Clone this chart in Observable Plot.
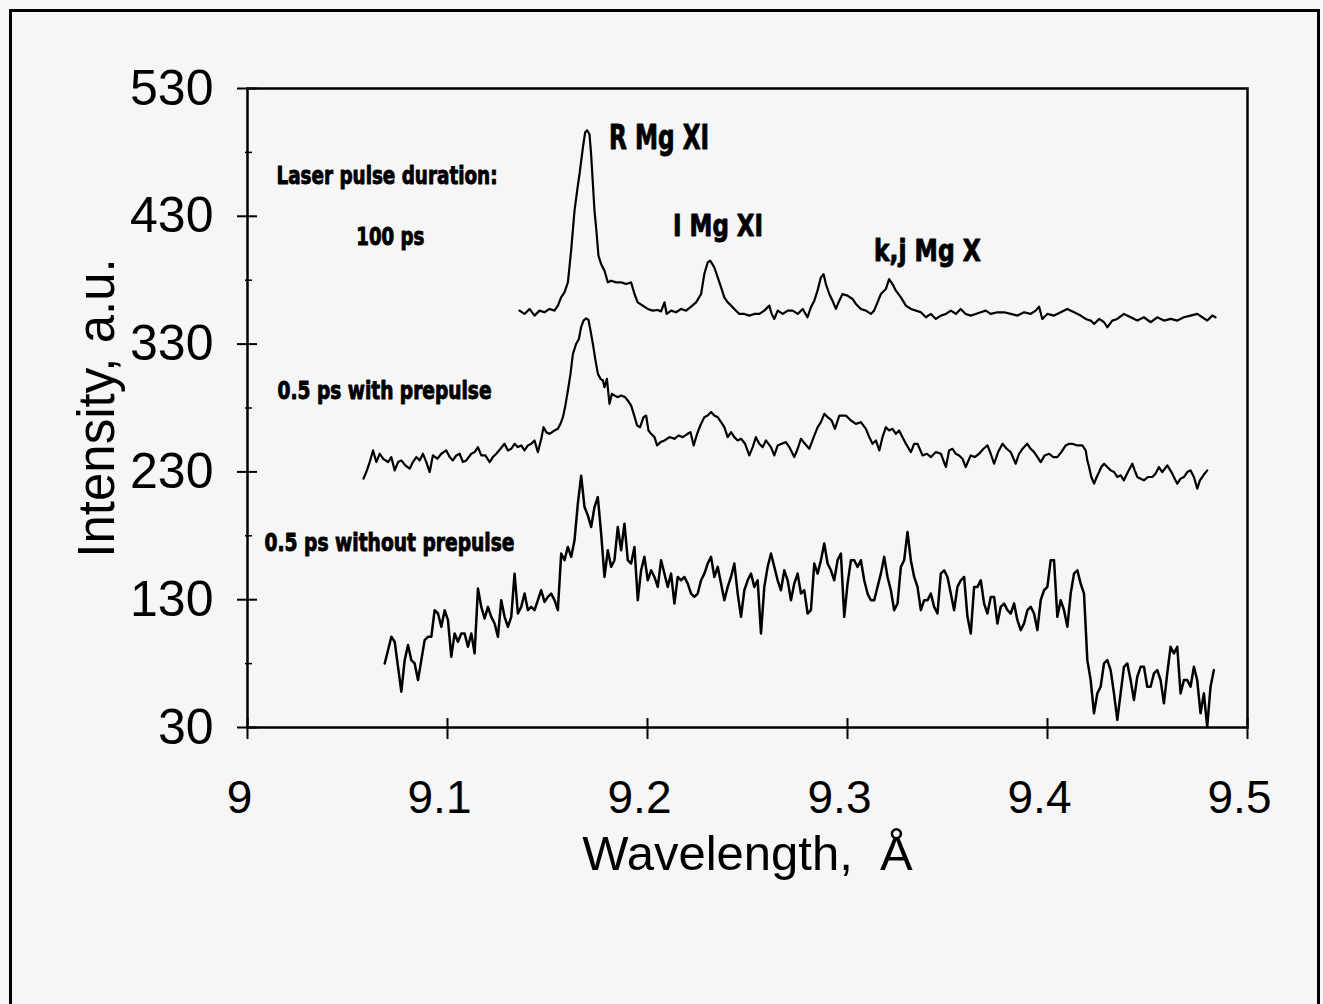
<!DOCTYPE html>
<html>
<head>
<meta charset="utf-8">
<script src="https://cdn.jsdelivr.net/npm/d3@7"></script>
<script src="https://cdn.jsdelivr.net/npm/@observablehq/plot@0.6"></script>
<style>
html,body{margin:0;padding:0;background:#f6f6f6;}
#wrap{position:relative;width:1323px;height:1004px;overflow:hidden;background:#f6f6f6;}
#border{position:absolute;left:9px;top:9px;width:1311px;height:1020px;border:3px solid #000;box-sizing:border-box;pointer-events:none;}
</style>
</head>
<body>
<div id="wrap"><div id="border"></div></div>
<script>
// ---- axis ticks ----
const xTicks = [9, 9.1, 9.2, 9.3, 9.4, 9.5];
const yTicks = [30, 130, 230, 330, 430, 530];
const yMinorTicks = [80, 180, 280, 380, 480];
const xTitle = "Wavelength,  Å";
const yTitle = "Intensity, a.u.";

// ---- series 1: 100 ps ----
const wl100 = [9.1360,9.1385,9.1410,9.1435,9.1460,9.1485,9.1510,9.1535,9.1552,9.1568,9.1585,9.1602,9.1618,9.1635,9.1648,9.1660,9.1677,9.1688,9.1698,9.1710,9.1718,9.1727,9.1735,9.1743,9.1755,9.1768,9.1785,9.1802,9.1818,9.1843,9.1868,9.1893,9.1918,9.1935,9.1951,9.1976,9.2001,9.2026,9.2051,9.2068,9.2085,9.2096,9.2118,9.2143,9.2168,9.2193,9.2218,9.2243,9.2268,9.2284,9.2301,9.2314,9.2334,9.2351,9.2368,9.2384,9.2401,9.2418,9.2434,9.2459,9.2484,9.2509,9.2534,9.2559,9.2584,9.2609,9.2621,9.2634,9.2651,9.2676,9.2701,9.2726,9.2751,9.2776,9.2800,9.2817,9.2834,9.2850,9.2867,9.2880,9.2892,9.2909,9.2925,9.2942,9.2959,9.2975,9.3000,9.3025,9.3042,9.3067,9.3092,9.3117,9.3133,9.3150,9.3167,9.3192,9.3208,9.3225,9.3242,9.3267,9.3292,9.3317,9.3342,9.3367,9.3392,9.3417,9.3442,9.3467,9.3492,9.3517,9.3542,9.3566,9.3591,9.3616,9.3641,9.3666,9.3691,9.3716,9.3750,9.3783,9.3816,9.3850,9.3883,9.3916,9.3941,9.3958,9.3974,9.3999,9.4033,9.4066,9.4099,9.4133,9.4166,9.4191,9.4216,9.4233,9.4258,9.4283,9.4299,9.4324,9.4349,9.4382,9.4416,9.4449,9.4482,9.4516,9.4549,9.4582,9.4616,9.4649,9.4682,9.4715,9.4749,9.4774,9.4799,9.4824,9.4840];
const int100 = [356.2,353.6,357.5,352.3,356.2,354.9,357.5,356.2,360.1,366.6,370.5,378.3,403.0,434.3,449.9,462.9,483.8,495.5,497.3,494.2,478.6,455.1,434.3,421.3,399.1,392.6,387.4,378.3,379.6,378.3,378.3,377.0,378.3,369.2,362.7,360.1,357.5,356.2,356.7,355.6,362.7,353.6,356.2,354.9,357.5,356.2,359.3,362.7,369.2,384.8,393.9,395.2,390.0,382.2,374.4,366.6,362.7,360.1,357.5,353.6,353.6,352.3,353.6,353.6,356.2,360.1,353.6,349.7,356.2,353.6,356.2,356.2,353.6,357.5,351.0,358.8,364.0,371.8,382.2,384.8,377.0,369.2,364.0,357.5,364.0,369.2,367.9,365.3,361.4,357.5,356.2,353.6,356.2,362.7,369.2,373.1,380.9,377.0,371.8,366.6,360.1,357.5,356.2,354.9,351.0,353.6,349.7,352.3,353.6,356.2,353.6,357.5,353.6,352.3,353.6,354.9,356.2,353.6,354.9,354.9,353.6,352.3,354.9,353.6,356.2,359.3,349.7,353.6,352.3,354.9,357.5,354.9,352.3,349.7,348.4,345.8,349.7,347.1,343.2,348.4,349.7,353.6,351.0,348.4,351.0,347.1,351.0,348.4,349.7,348.4,351.0,352.3,353.6,351.0,348.4,352.3,351.0];

// ---- series 2: 0.5 ps with prepulse ----
const wlPre = [9.0580,9.0594,9.0611,9.0628,9.0644,9.0661,9.0678,9.0703,9.0719,9.0736,9.0753,9.0769,9.0789,9.0811,9.0827,9.0844,9.0861,9.0877,9.0894,9.0911,9.0927,9.0949,9.0969,9.0994,9.1011,9.1027,9.1044,9.1061,9.1077,9.1094,9.1119,9.1136,9.1152,9.1169,9.1189,9.1211,9.1227,9.1244,9.1265,9.1285,9.1302,9.1319,9.1335,9.1352,9.1369,9.1385,9.1402,9.1419,9.1435,9.1452,9.1469,9.1480,9.1494,9.1510,9.1535,9.1552,9.1565,9.1577,9.1588,9.1602,9.1615,9.1627,9.1643,9.1657,9.1668,9.1680,9.1693,9.1705,9.1715,9.1727,9.1740,9.1752,9.1765,9.1777,9.1785,9.1797,9.1810,9.1822,9.1835,9.1852,9.1868,9.1888,9.1901,9.1918,9.1931,9.1948,9.1963,9.1980,9.1993,9.2005,9.2018,9.2035,9.2048,9.2065,9.2085,9.2110,9.2135,9.2155,9.2176,9.2201,9.2215,9.2231,9.2248,9.2264,9.2284,9.2301,9.2318,9.2334,9.2351,9.2368,9.2384,9.2401,9.2418,9.2434,9.2451,9.2468,9.2488,9.2509,9.2526,9.2542,9.2559,9.2576,9.2592,9.2617,9.2634,9.2651,9.2671,9.2692,9.2709,9.2734,9.2751,9.2767,9.2787,9.2809,9.2831,9.2851,9.2867,9.2884,9.2901,9.2921,9.2937,9.2959,9.2992,9.3017,9.3042,9.3067,9.3092,9.3109,9.3125,9.3142,9.3159,9.3175,9.3192,9.3208,9.3225,9.3242,9.3258,9.3275,9.3292,9.3317,9.3333,9.3350,9.3375,9.3397,9.3417,9.3442,9.3467,9.3492,9.3508,9.3525,9.3541,9.3558,9.3575,9.3591,9.3616,9.3636,9.3658,9.3680,9.3700,9.3716,9.3733,9.3753,9.3775,9.3796,9.3816,9.3841,9.3858,9.3875,9.3899,9.3916,9.3933,9.3950,9.3966,9.3986,9.4008,9.4029,9.4049,9.4069,9.4091,9.4108,9.4124,9.4149,9.4174,9.4191,9.4199,9.4208,9.4219,9.4233,9.4246,9.4258,9.4269,9.4283,9.4299,9.4316,9.4333,9.4349,9.4366,9.4382,9.4402,9.4424,9.4436,9.4449,9.4466,9.4482,9.4502,9.4524,9.4540,9.4557,9.4574,9.4599,9.4624,9.4640,9.4649,9.4665,9.4682,9.4699,9.4715,9.4732,9.4749,9.4762,9.4774,9.4785,9.4799];
const intPre = [224.7,229.9,237.7,246.8,237.7,244.2,240.3,237.7,241.6,231.2,237.7,239.0,235.1,232.5,237.7,241.6,239.0,244.2,237.7,229.9,242.9,240.3,244.2,246.8,241.6,239.0,242.9,244.2,237.7,239.0,244.2,245.5,249.4,242.9,242.9,237.7,241.6,244.2,248.1,252.0,246.8,248.1,252.0,249.4,250.7,246.8,250.7,252.0,254.6,245.5,255.9,265.0,261.1,259.8,262.4,263.7,267.6,272.8,280.7,293.7,306.7,322.3,330.1,334.0,343.2,348.4,350.2,348.9,340.6,330.1,317.1,306.7,302.8,301.5,296.3,302.8,283.3,291.1,289.8,288.5,289.8,288.5,285.9,282.0,275.4,266.3,265.0,272.8,274.1,262.4,259.8,257.2,250.7,253.3,254.6,257.2,255.9,258.5,257.2,259.8,261.1,250.7,259.8,266.3,272.8,274.1,276.8,274.1,272.8,268.9,265.0,257.2,261.1,257.2,254.6,255.9,252.0,242.9,249.4,257.2,252.0,249.4,254.6,249.4,242.9,250.7,252.0,253.3,249.4,241.6,248.1,255.9,252.0,248.1,257.2,265.0,268.9,275.4,272.8,270.2,263.7,274.1,274.1,270.2,267.6,268.9,263.7,257.2,252.0,254.6,246.8,257.2,265.0,262.4,263.7,259.8,262.4,257.2,252.0,245.5,252.0,252.0,242.9,244.2,241.6,245.5,244.2,233.8,246.8,248.1,244.2,242.9,240.3,233.8,242.9,241.6,244.2,248.1,250.7,244.2,236.4,245.5,252.0,248.1,245.5,236.4,244.2,248.1,252.0,248.1,245.5,241.6,237.7,242.9,244.2,241.6,241.6,245.5,250.7,252.0,252.0,250.7,250.7,246.8,239.0,233.8,226.0,220.8,226.0,229.9,233.8,236.4,233.8,231.2,229.9,226.0,227.3,223.4,229.9,236.4,231.2,226.0,224.7,223.4,226.0,226.0,228.6,233.8,229.9,235.1,228.6,223.4,220.8,224.7,226.0,229.9,231.2,226.0,216.9,223.4,226.0,228.6,231.2];

// ---- series 3: 0.5 ps without prepulse (sampled on a uniform wavelength grid) ----
const wlNoStart = 9.0686;
const wlNoStep = 0.001665;
const intNo = [80.1,90.5,101.0,97.1,77.5,58.0,82.7,94.5,82.7,80.1,67.1,82.7,98.4,101.0,101.0,121.8,119.2,108.8,121.8,114.0,85.3,103.6,97.1,103.6,103.6,93.2,103.6,88.0,138.7,124.4,115.3,124.4,116.6,111.4,101.0,129.6,116.6,108.8,116.6,150.4,119.2,124.4,134.8,121.8,124.4,121.8,129.6,137.4,128.3,132.2,134.8,129.6,121.8,166.1,160.9,171.3,163.5,176.5,205.1,227.0,202.5,196.0,186.9,202.5,210.3,181.7,147.8,168.7,155.7,160.9,186.9,168.7,189.5,160.9,158.3,171.3,129.6,153.0,163.5,145.2,153.0,147.8,140.0,160.9,150.4,140.0,150.4,127.0,147.8,145.2,147.8,142.6,134.8,132.2,134.8,145.2,150.4,158.3,163.5,147.8,155.7,142.6,129.6,140.0,147.8,158.3,134.8,116.6,137.4,145.2,150.4,140.0,145.2,103.6,140.0,155.7,166.1,155.7,145.2,137.4,153.0,145.2,129.6,142.6,150.4,134.8,137.4,119.2,
121.8,158.3,150.4,160.9,173.9,158.3,153.0,145.2,160.9,166.1,116.6,142.6,160.9,160.9,155.7,160.9,145.2,134.8,129.6,129.6,140.0,150.4,163.5,147.8,137.4,121.8,127.0,155.7,160.9,183.0,160.9,147.8,140.0,121.8,129.6,129.6,134.8,124.4,119.2,150.4,153.0,147.8,134.8,121.8,140.0,145.2,147.8,116.6,103.6,140.0,140.0,145.2,127.0,119.2,132.2,132.2,111.4,124.4,127.0,121.8,119.2,127.0,114.0,106.2,111.4,121.8,124.4,119.2,106.2,129.6,137.4,140.0,160.9,160.9,116.6,129.6,121.8,108.8,134.8,150.4,153.0,142.6,134.8,82.7,67.1,41.1,56.7,61.9,80.1,82.7,74.9,56.7,35.9,56.7,77.5,80.1,67.1,51.5,69.7,77.5,77.5,61.9,61.9,72.3,74.9,67.1,48.9,72.3,93.2,87.9,93.2,56.7,67.1,67.1,61.9,77.5,67.1,41.1,56.7,30.7,61.9,74.9];
const wlNo = intNo.map((_, i) => wlNoStart + i * wlNoStep);

// ---- annotations (anchored at left end of text baseline, in data units) ----
const annoText = ["Laser pulse duration:", "100 ps", "R Mg XI", "I Mg XI", "k,j Mg X", "0.5 ps with prepulse", "0.5 ps without prepulse"];
const annoWl  = [9.0145, 9.0544, 9.1808, 9.2128, 9.3132, 9.0150, 9.0085];
const annoInt = [455.4, 407.7, 482.7, 414.8, 395.2, 287.4, 167.9];
// styles for annotations
const annoFontSize = [25, 24, 34, 31, 31, 24, 25];
const annoTextWidth = [221, 68, 100, 90, 107, 214, 250];

const lineStyle = {stroke: "#000", strokeLinejoin: "round", curve: "linear"};

const plot = Plot.plot({
  width: 1323,
  height: 1004,
  marginLeft: 247,
  marginRight: 76,
  marginTop: 88,
  marginBottom: 277,
  style: {background: "transparent", fontFamily: "'Liberation Sans', Arial, Helvetica, sans-serif", color: "#000", overflow: "visible"},
  x: {domain: [9, 9.5]},
  y: {domain: [30, 530]},
  marks: [
    Plot.frame({stroke: "#000", strokeWidth: 2.5}),
    Plot.axisY(yTicks, {tickSize: 20, dx: 10, strokeWidth: 2, fill: "none", label: null}),
    Plot.axisY(yMinorTicks, {tickSize: 7, dx: 5, strokeWidth: 1.5, fill: "none", label: null}),
    Plot.axisY(yTicks, {tickSize: 0, tickPadding: 34, fontSize: 50, label: yTitle, labelAnchor: "center", labelOffset: 170, labelArrow: "none"}),
    Plot.axisX(xTicks, {tickSize: 21, dy: -9, strokeWidth: 2, fill: "none", label: null}),
    Plot.axisX(xTicks, {tickSize: 0, tickPadding: 53, dx: -8, fontSize: 46, tickFormat: d => String(d), label: xTitle, labelAnchor: "center", labelOffset: 142, labelArrow: "none"}),
    Plot.line(int100, {x: wl100, y: int100, strokeWidth: 2.2, ...lineStyle}),
    Plot.line(intPre, {x: wlPre, y: intPre, strokeWidth: 2.2, ...lineStyle}),
    Plot.line(intNo, {x: wlNo, y: intNo, strokeWidth: 2.5, ...lineStyle}),
    Plot.text(annoText, {
      x: annoWl, y: annoInt, text: annoText,
      fontSize: annoFontSize,
      textAnchor: "start", lineAnchor: "bottom",
      fontFamily: "'DejaVu Sans Condensed', 'DejaVu Sans', sans-serif",
      fontWeight: "bold", fill: "#000", stroke: "#000", strokeWidth: 0.9
    })
  ]
});

d3.select(plot).selectAll('g[aria-label="text"] text').each(function() {
  const idx = annoText.indexOf(this.textContent);
  if (idx >= 0) {
    this.setAttribute("textLength", annoTextWidth[idx]);
    this.setAttribute("lengthAdjust", "spacingAndGlyphs");
  }
});
// axis titles slightly larger than tick labels
d3.select(plot).selectAll('g[aria-label="x-axis label"] text').attr("font-size", 49);
d3.select(plot).selectAll('g[aria-label="y-axis label"] text').attr("font-size", 51);

document.getElementById("wrap").insertBefore(plot, document.getElementById("border"));
</script>
</body>
</html>
